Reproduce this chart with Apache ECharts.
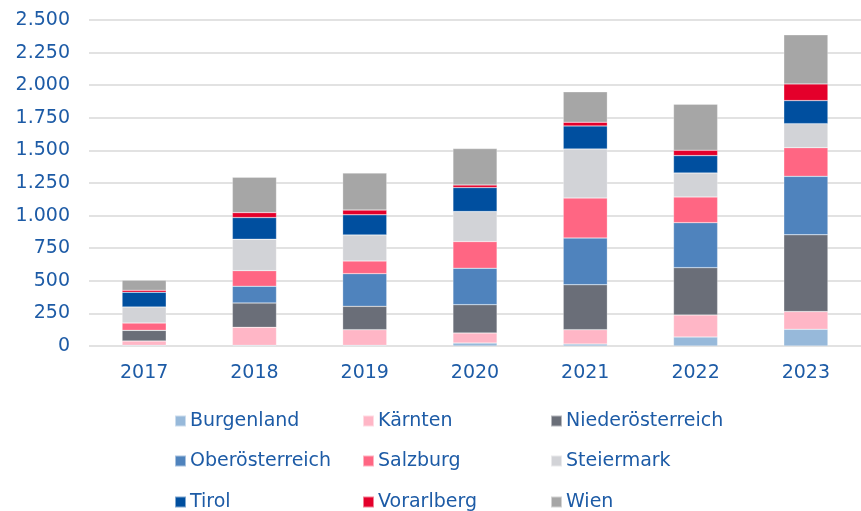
<!DOCTYPE html>
<html>
<head>
<meta charset="utf-8">
<script src="https://cdn.jsdelivr.net/npm/echarts@6/dist/echarts.min.js"></script>
<style>
  html, body { margin: 0; padding: 0; background: #fff; }
  #chart { width: 861px; height: 511px; }
</style>
</head>
<body>
<div id="chart"></div>
<script>
const years = ['2017', '2018', '2019', '2020', '2021', '2022', '2023'];

const burgenland = [5, 5, 5, 23, 15, 69, 128];
const kaernten = [33, 138, 120, 77, 110, 169, 136];
const niederoesterreich = [82, 187, 179, 217, 345, 363, 589];
const oberoesterreich = [0, 128, 251, 279, 358, 345, 448];
const salzburg = [56, 120, 97, 205, 307, 197, 220];
const steiermark = [123, 241, 200, 230, 376, 184, 184];
const tirol = [113, 166, 154, 184, 177, 133, 177];
const vorarlberg = [15, 38, 36, 20, 28, 41, 128];
const wien = [77, 271, 284, 279, 233, 353, 376];

const yTicks = [0, 250, 500, 750, 1000, 1250, 1500, 1750, 2000, 2250, 2500];

const textBlue = '#1d5ba6';
const font = 'DejaVu Sans';

const seriesDefs = [
    { name: 'Burgenland', data: burgenland, color: '#97b9da' },
    { name: 'Kärnten', data: kaernten, color: '#ffb6c6' },
    { name: 'Niederösterreich', data: niederoesterreich, color: '#6a6e78' },
    { name: 'Oberösterreich', data: oberoesterreich, color: '#4f83bd' },
    { name: 'Salzburg', data: salzburg, color: '#ff6683' },
    { name: 'Steiermark', data: steiermark, color: '#d2d3d7' },
    { name: 'Tirol', data: tirol, color: '#004f9f' },
    { name: 'Vorarlberg', data: vorarlberg, color: '#e4002b' },
    { name: 'Wien', data: wien, color: '#a6a6a6' }
];

const series = seriesDefs.map(item => {
    return {
        name: item.name,
        type: 'bar',
        stack: 'total',
        barWidth: '40%',
        data: item.data,
        itemStyle: {
            color: item.color,
            borderColor: 'rgba(255,255,255,0.5)',
            borderWidth: 0.5
        }
    };
});

// one legend per row, fixed text width so the columns line up
const legendRow = (top, names) => ({
    orient: 'horizontal',
    left: 174,
    top: top,
    padding: 0,
    itemWidth: 11,
    itemHeight: 11,
    itemGap: 22,
    icon: 'rect',
    selectedMode: false,
    data: names,
    textStyle: {
        color: textBlue,
        fontFamily: font,
        fontSize: 19,
        lineHeight: 20,
        width: 150,
        padding: [0, 0, 0, -1]
    }
});

const option = {
    animation: false,
    backgroundColor: '#fff',
    grid: {
        left: 89,
        width: 784,
        top: 20,
        bottom: 165
    },
    legend: [
        legendRow(411, ['Burgenland', 'Kärnten', 'Niederösterreich']),
        legendRow(451, ['Oberösterreich', 'Salzburg', 'Steiermark']),
        legendRow(492, ['Tirol', 'Vorarlberg', 'Wien'])
    ],
    xAxis: {
        type: 'category',
        data: years,
        axisLine: { show: false },
        axisTick: { show: false },
        axisLabel: {
            color: textBlue,
            fontFamily: font,
            fontSize: 19,
            margin: 18
        }
    },
    yAxis: {
        type: 'value',
        min: yTicks[0],
        max: yTicks[yTicks.length - 1],
        interval: 250,
        axisLine: { show: false },
        axisTick: { show: false },
        splitLine: {
            lineStyle: { color: '#d9d9d9', width: 1.5 }
        },
        axisLabel: {
            color: textBlue,
            fontFamily: font,
            fontSize: 19,
            margin: 19,
            formatter: (v) => v.toLocaleString('de-DE')
        }
    },
    series
};

const myChart = echarts.init(document.getElementById('chart'), null, { renderer: 'canvas' });
myChart.setOption(option);
</script>
</body>
</html>
